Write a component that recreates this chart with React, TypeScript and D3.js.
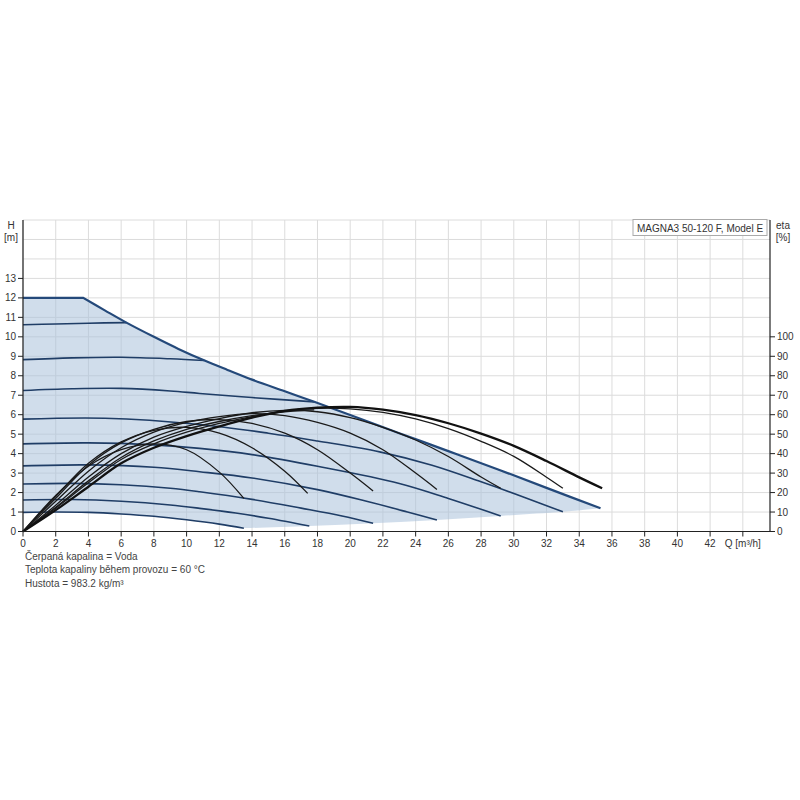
import React from "react";
import * as d3 from "d3";

type P = [number, number];

// ---- data (Q [m³/h], H [m]) ----
const xTicks = d3.range(0, 44, 2);
const hTicks = d3.range(0, 14, 1);
const etaTicks = d3.range(0, 110, 10);

const maxFlat: P[] = [[0, 12], [3.68, 12]];
const maxCurve: P[] = [
  [3.68, 12], [5, 11.36], [6.32, 10.73], [8, 10.0], [9.5, 9.38], [11.1, 8.78],
  [12.5, 8.3], [14, 7.8], [16, 7.2], [17.8, 6.66], [20, 5.98], [23, 5.05],
  [26, 4.13], [29, 3.2], [32, 2.24], [35.3, 1.19],
];
const lowerBoundary: P[] = [
  [13.5, 0.17], [17.5, 0.28], [21.4, 0.42], [25.3, 0.59], [29.2, 0.8], [33, 1.01], [35.3, 1.19],
];

const speedB: P[] = [[0, 10.62], [2, 10.66], [4, 10.7], [6.32, 10.73]];
const speedC: P[] = [[0, 8.83], [3, 8.92], [6, 8.95], [9, 8.87], [11.1, 8.78]];
const speedD: P[] = [[0, 7.24], [3, 7.33], [6, 7.35], [9, 7.22], [10.8, 7.09], [14, 6.88], [17.8, 6.66]];
const speedE: P[] = [[0, 5.77], [5, 5.82], [10.8, 5.5], [15, 5.05], [18, 4.65], [21.8, 4.09], [25, 3.4], [28, 2.55], [30.5, 1.8], [33, 1.01]];
const speedF: P[] = [[0, 4.5], [4, 4.55], [8, 4.45], [10.8, 4.27], [14, 3.95], [18, 3.35], [23, 2.47], [26, 1.7], [29.2, 0.8]];
const speedG: P[] = [[0, 3.37], [4, 3.42], [8, 3.3], [10.8, 3.07], [14, 2.75], [18, 2.15], [21, 1.55], [23.5, 1.0], [25.3, 0.59]];
const speedH: P[] = [[0, 2.44], [3, 2.47], [6, 2.4], [9, 2.22], [10.8, 2.04], [14, 1.65], [17, 1.2], [19.5, 0.8], [21.4, 0.42]];
const speedI: P[] = [[0, 1.62], [3, 1.64], [6, 1.55], [9, 1.36], [10.8, 1.19], [13, 0.95], [15, 0.68], [17.5, 0.28]];
const speedJ: P[] = [[0, 0.98], [2, 1.0], [4, 0.98], [6, 0.9], [8, 0.78], [10, 0.6], [12, 0.38], [13.5, 0.17]];

// ---- efficiency (Q [m³/h], eta [%]) ----
const etaMax: P[] = [[0, 0], [2, 11], [4, 23], [6, 35], [8, 43], [10, 49], [12, 54], [14, 58.5], [16, 62], [18, 63.6], [20, 64], [22, 62.6], [24, 59.8], [26, 55.6], [28, 50.3], [30, 44.0], [32, 36.2], [34, 27.8], [35.4, 22.2]];
const etaE: P[] = [[0, 0], [2, 12], [4, 25], [6, 37], [8, 45], [10, 51], [12, 55.5], [14, 59], [16, 62], [18, 63.3], [20, 63], [22, 61.2], [24, 57.8], [26, 52.8], [28, 46.3], [30, 38.6], [32, 27.9], [33, 22.2]];
const etaD: P[] = [[0, 0], [2, 12.5], [4, 26], [6, 38], [8, 46.5], [10, 52.5], [12, 56.5], [14, 59.5], [16, 61.5], [17.8, 62.5]];
const etaF: P[] = [[0, 0], [2, 13.5], [4, 28], [6, 40], [8, 48.5], [10, 54], [12, 58], [14, 61], [16, 62.2], [18, 61.5], [20, 58.5], [22, 53.5], [24, 47], [26, 38.5], [28, 28], [29.2, 22.2]];
const etaG: P[] = [[0, 0], [2, 15.5], [4, 31], [6, 43], [8, 51], [10, 56], [12, 59], [14, 60.5], [16, 59.5], [18, 56], [20, 50.5], [22, 42], [24, 30], [25.3, 21.6]];
const etaH: P[] = [[0, 0], [2, 17], [4, 34], [6, 45.5], [8, 52.5], [10, 56.5], [12, 57.5], [14, 55.5], [16, 50.5], [18, 42], [20, 30], [21.4, 20.8]];
const etaI: P[] = [[0, 0], [2, 18], [4, 35], [6, 46], [8, 52], [10, 53.5], [12, 50.5], [14, 43], [16, 31], [17.4, 19.6]];
const etaJ: P[] = [[0, 0], [2, 18.5], [4, 33.5], [6, 42], [8, 45], [10, 42], [12, 30.5], [13.5, 17]];

const titleText = "MAGNA3 50-120 F, Model E";
const notes = ["Čerpaná kapalina = Voda", "Teplota kapaliny během provozu = 60 °C", "Hustota = 983.2 kg/m³"];

export default function App() {
  const x = d3.scaleLinear().domain([0, 45.66]).range([23, 770]);
  const y = d3.scaleLinear().domain([0, 16]).range([531.5, 220]);
  const ye = d3.scaleLinear().domain([0, 160]).range([531.5, 220]);

  const smoothH = d3.line<P>().x((d) => x(d[0])).y((d) => y(d[1])).curve(d3.curveCatmullRom.alpha(0.5));
  const linearH = d3.line<P>().x((d) => x(d[0])).y((d) => y(d[1]));
  const smoothE = d3.line<P>().x((d) => x(d[0])).y((d) => ye(d[1])).curve(d3.curveCatmullRom.alpha(0.5));

  const cont = (s: string | null) => (s || "").replace(/^M/, "L");
  const fillPath =
    (linearH(maxFlat) || "") +
    cont(smoothH(maxCurve)) +
    cont(smoothH([...lowerBoundary].reverse())) +
    cont(smoothH([...speedJ].reverse())) +
    "Z";

  const speeds = [speedB, speedC, speedD, speedE, speedF, speedG, speedH, speedI, speedJ];
  const etas = [etaJ, etaI, etaH, etaG, etaF, etaD, etaE];
  const font = "'Liberation Sans', Arial, sans-serif";
  const top = y(16);
  const bottom = y(0);

  return (
    <svg width={800} height={800} style={{ position: "absolute", left: 0, top: 0, background: "#fff" }} fontFamily={font}>
      {d3.range(0, 46, 2).map((q) => (
        <line key={"vx" + q} x1={x(q)} x2={x(q)} y1={top} y2={bottom} stroke="#dcdcdc" strokeWidth={1} />
      ))}
      {d3.range(0, 17, 1).map((h) => (
        <line key={"hy" + h} x1={x(0)} x2={x(45.66)} y1={y(h)} y2={y(h)} stroke="#dcdcdc" strokeWidth={1} />
      ))}
      <path d={fillPath} fill="#a9c1da" fillOpacity={0.55} stroke="none" />
      {speeds.map((s, i) => (
        <path key={"s" + i} d={smoothH(s) || ""} fill="none" stroke="#1f3d66" strokeWidth={1.6} />
      ))}
      <path d={(linearH(maxFlat) || "") + cont(smoothH(maxCurve))} fill="none" stroke="#24497a" strokeWidth={2.2} />
      {etas.map((s, i) => (
        <path key={"e" + i} d={smoothE(s) || ""} fill="none" stroke="#1a1a1a" strokeWidth={1.3} />
      ))}
      <path d={smoothE(etaMax) || ""} fill="none" stroke="#111" strokeWidth={2.3} />

      <line x1={x(0)} x2={x(0)} y1={top} y2={bottom} stroke="#222" strokeWidth={1.2} />
      <line x1={x(45.66)} x2={x(45.66)} y1={top} y2={bottom} stroke="#222" strokeWidth={1.2} />
      <line x1={x(0)} x2={x(45.66)} y1={bottom} y2={bottom} stroke="#222" strokeWidth={1.2} />
      {hTicks.map((h) => (
        <g key={"ht" + h}>
          <line x1={x(0) - 5} x2={x(0)} y1={y(h)} y2={y(h)} stroke="#222" />
          <text x={x(0) - 7} y={y(h) + 3.5} textAnchor="end" fontSize={10} fill="#333">{h}</text>
        </g>
      ))}
      {etaTicks.map((e) => (
        <g key={"et" + e}>
          <line x1={x(45.66)} x2={x(45.66) + 5} y1={ye(e)} y2={ye(e)} stroke="#222" />
          <text x={x(45.66) + 7} y={ye(e) + 3.5} textAnchor="start" fontSize={10} fill="#333">{e}</text>
        </g>
      ))}
      {xTicks.map((q) => (
        <g key={"xt" + q}>
          <line x1={x(q)} x2={x(q)} y1={bottom} y2={bottom + 5} stroke="#222" />
          <text x={x(q)} y={bottom + 15} textAnchor="middle" fontSize={10} fill="#333">{q}</text>
        </g>
      ))}
      <line x1={x(44)} x2={x(44)} y1={bottom} y2={bottom + 5} stroke="#222" />
      <text x={x(44)} y={bottom + 15} textAnchor="middle" fontSize={10} fill="#333">Q [m³/h]</text>

      <text x={11} y={229} textAnchor="middle" fontSize={10} fill="#333">H</text>
      <text x={11} y={241} textAnchor="middle" fontSize={10} fill="#333">[m]</text>
      <text x={783} y={229} textAnchor="middle" fontSize={10} fill="#333">eta</text>
      <text x={783} y={241} textAnchor="middle" fontSize={10} fill="#333">[%]</text>

      <rect x={633} y={219.5} width={134} height={16} fill="#fff" stroke="#aaa" strokeWidth={1} />
      <text x={700} y={231.5} textAnchor="middle" fontSize={10} fill="#333">{titleText}</text>

      {notes.map((t, i) => (
        <text key={"n" + i} x={25} y={560 + i * 13.3} fontSize={10} fill="#444">{t}</text>
      ))}
    </svg>
  );
}
